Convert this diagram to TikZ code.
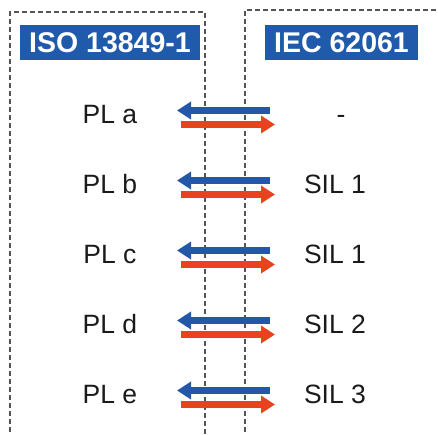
\documentclass[tikz,border=0pt]{standalone}
\usepackage{fontspec}
\setmainfont{Liberation Sans}
\usetikzlibrary{arrows.meta}
\definecolor{stdblue}{HTML}{1F5BAA}
\definecolor{arrblue}{HTML}{2457A8}
\definecolor{arrred}{HTML}{E8431E}
\definecolor{frame}{HTML}{555555}
\definecolor{txt}{HTML}{1A1A1A}
\tikzset{
  frameline/.style={draw=frame, line width=1.3pt, dash pattern=on 5pt off 3pt},
  titlebox/.style={fill=stdblue, text=white, font=\fontsize{28.5}{30}\selectfont\bfseries, minimum height=35pt, inner sep=0pt},
  rowtext/.style={text=txt, font=\fontsize{26.5}{28}\selectfont, anchor=base, inner sep=0pt},
  bluearrow/.style={draw=arrblue, line width=7.5pt, -{Triangle[length=14pt,width=17pt]}},
  redarrow/.style={draw=arrred, line width=7.5pt, -{Triangle[length=14pt,width=17pt]}}
}
\begin{document}
\begin{tikzpicture}[x=1pt,y=-1pt]
\useasboundingbox (0,0) rectangle (438,434);
% frames
\draw[frameline] (10,440) -- (10,12) -- (205,12) -- (205,440);
\draw[frameline] (245,440) -- (245,10) -- (445,10);
% titles
\node[titlebox, minimum width=180pt] (iso) at (110,42.5) {ISO 13849-1};
\node[titlebox, minimum width=153pt] (iec) at (341.5,42.5) {IEC 62061};
% rows
\foreach \i/\l/\r/\rx in {1/PL a/-/341,2/PL b/SIL 1/335,3/PL c/SIL 1/335,4/PL d/SIL 2/335,5/PL e/SIL 3/335}{
  \pgfmathsetmacro{\yb}{123+70*(\i-1)}
  \node[rowtext] (left\i) at (110,\yb) {\l};
  \node[rowtext] (right\i) at (\rx,\yb) {\r};
  \coordinate (bt\i) at (270,\yb-12.5);
  \coordinate (bh\i) at (177,\yb-12.5);
  \coordinate (rt\i) at (181,\yb+1.5);
  \coordinate (rh\i) at (275,\yb+1.5);
  \draw[bluearrow] (bt\i) -- (bh\i);
  \draw[redarrow] (rt\i) -- (rh\i);
}
\end{tikzpicture}
\end{document}
